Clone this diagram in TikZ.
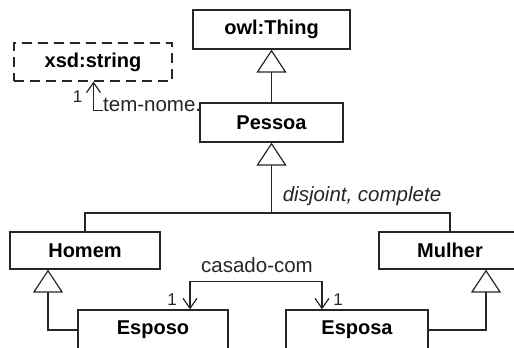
\documentclass[tikz,border=0pt]{standalone}
\usepackage{fontspec}
\setmainfont{Liberation Sans}
\usetikzlibrary{arrows.meta}
\pgfdeclarelayer{background}
\pgfsetlayers{background,main}

\begin{document}
\begin{tikzpicture}[x=1pt, y=-1pt, line join=miter,
  cls/.style={draw=black!85, line width=1.2pt, inner sep=0pt, fill=white,
              font=\bfseries\fontsize{20}{22}\selectfont},
  lbl/.style={inner sep=0pt, text=black!85, font=\fontsize{20.5}{22}\selectfont},
  mult/.style={inner sep=0pt, text=black!85, font=\fontsize{17}{18}\selectfont},
  edge/.style={draw=black!85, line width=1.2pt},
  gen/.style={edge, -{Triangle[open, length=23pt, width=30pt]}},
  barb/.tip={Straight Barb[length=10pt, width=14pt]},
]
\useasboundingbox (0,0) rectangle (514,348);
\clip (0,0) rectangle (514,348);

% classes
\node[cls, minimum width=157pt, minimum height=39pt] (thing)  at (271.5,29.5) {owl:Thing};
\node[cls, minimum width=143pt, minimum height=39pt] (pessoa) at (271.5,122.5) {Pessoa};
\node[cls, dashed, dash pattern=on 10pt off 6pt,
      minimum width=158pt, minimum height=38pt]      (xsd)    at (93,62) {xsd:string};
\node[cls, minimum width=150pt, minimum height=37pt] (homem)  at (85,250.5) {Homem};
\node[cls, minimum width=142pt, minimum height=37pt] (mulher) at (450,250.5) {Mulher};
\node[cls, minimum width=150pt, minimum height=40pt] (esposo) at (153,330) {Esposo};
\node[cls, minimum width=142pt, minimum height=40pt] (esposa) at (357,330) {Esposa};

% Pessoa is a subclass of owl:Thing
\draw[gen] (pessoa.north) -- (thing.south);

% disjoint, complete partition of Pessoa
\coordinate (split) at (271.5,213);
\draw[gen] (split) -- (pessoa.south);
\draw[edge] (homem.north) |- (split) -| (mulher.north);
\node[lbl, font=\itshape\fontsize{20.5}{22}\selectfont, anchor=base] at (362,201) {disjoint, complete};

% Esposo / Esposa specialisations
\draw[gen] (esposo.west) -| ([xshift=-37pt]homem.south);
\draw[gen] (esposa.east) -| ([xshift=36pt]mulher.south);

% tem-nome association (kept behind the class boxes)
\coordinate (tn) at (93.5,110.7);
\begin{pgfonlayer}{background}
\draw[edge, -barb] (pessoa.west |- tn) -- (tn) -- (xsd.south -| tn);
\node[lbl, fill=white, inner ysep=1pt, anchor=base west] at (103,111.5) {tem-nome.};
\end{pgfonlayer}
\node[mult, anchor=base] at (77.5,102) {1};

% casado-com association
\draw[edge, barb-barb] ([xshift=37pt]esposo.north) -- ++(0,-28) -| ([xshift=-35pt]esposa.north);
\node[lbl, anchor=base] at (257,272) {casado-com};
\node[mult, anchor=base] at (172,305) {1};
\node[mult, anchor=base] at (338,305) {1};
\end{tikzpicture}
\end{document}
